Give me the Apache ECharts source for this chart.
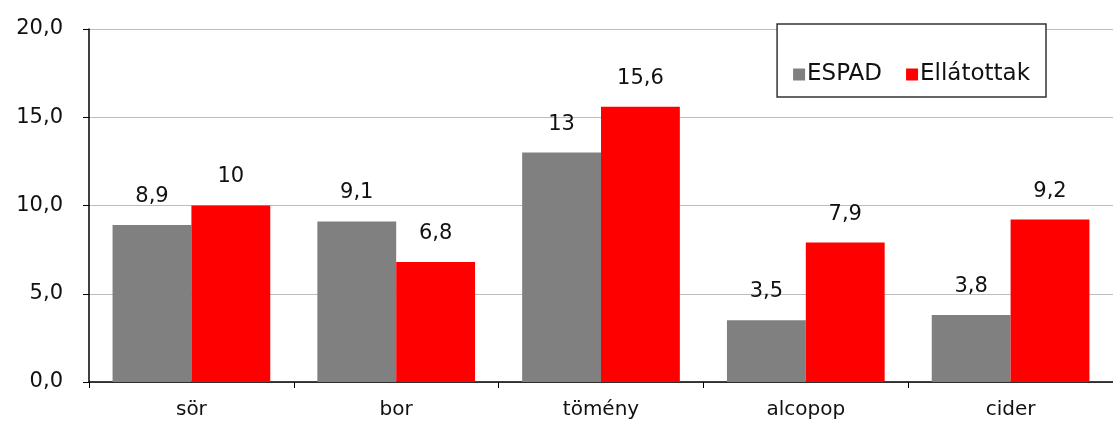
<!DOCTYPE html>
<html>
<head>
<meta charset="utf-8">
<script src="https://cdn.jsdelivr.net/npm/echarts@6/dist/echarts.min.js"></script>
<style>
  html, body { margin: 0; padding: 0; background: #fff; }
  #chart { width: 1113px; height: 425px; }
</style>
</head>
<body>
<div id="chart"></div>
<script>
// Alcohol types and the share reported in each group
const categories = ['sör', 'bor', 'tömény', 'alcopop', 'cider'];
const espad = [8.9, 9.1, 13, 3.5, 3.8];
const ellatottak = [10, 6.8, 15.6, 7.9, 9.2];
const seriesNames = ['ESPAD', 'Ellátottak'];

const font = '"DejaVu Sans", Verdana, sans-serif';
const commaNum = v => String(v).replace('.', ',');

const valueLabel = {
  show: true, position: 'top', distance: 18,
  fontFamily: font, fontSize: 21, color: '#111',
  formatter: p => commaNum(p.value)
};

const chart = echarts.init(document.getElementById('chart'));
chart.setOption({
  animation: false,
  textStyle: { fontFamily: font, color: '#000' },
  // the last category runs slightly past the right edge
  grid: { left: 89, right: -11, top: 29, bottom: 43 },
  legend: {
    data: seriesNames,
    right: 67,
    top: 24,
    orient: 'horizontal',
    itemWidth: 12,
    itemHeight: 12,
    itemGap: 24,
    icon: 'rect',
    borderColor: '#333',
    borderWidth: 1.5,
    padding: [39, 16, 11, 16],
    backgroundColor: '#fff',
    textStyle: { fontFamily: font, fontSize: 23, color: '#111', padding: [0, 0, 0, -3] }
  },
  xAxis: {
    type: 'category',
    data: categories,
    axisLine: { lineStyle: { color: '#000', width: 1.5 } },
    axisTick: { show: true, length: 6, lineStyle: { color: '#000' } },
    axisLabel: { fontFamily: font, fontSize: 20, color: '#111', margin: 18 }
  },
  yAxis: {
    type: 'value',
    min: 0,
    max: 20,
    interval: 5,
    axisLine: { show: true, lineStyle: { color: '#000', width: 1.5 } },
    axisTick: { show: true, length: 6, lineStyle: { color: '#000' } },
    splitLine: { show: true, lineStyle: { color: '#bdbdbd', width: 1 } },
    axisLabel: {
      fontFamily: font, fontSize: 21, color: '#111', margin: 26,
      formatter: v => v.toFixed(1).replace('.', ',')
    }
  },
  series: [
    {
      name: seriesNames[0],
      type: 'bar',
      data: espad,
      barGap: '0%',
      barCategoryGap: '23%',
      itemStyle: { color: '#808080' },
      label: valueLabel
    },
    {
      name: seriesNames[1],
      type: 'bar',
      data: ellatottak,
      barGap: '0%',
      barCategoryGap: '23%',
      itemStyle: { color: '#ff0000' },
      label: valueLabel
    }
  ]
});
</script>
</body>
</html>
